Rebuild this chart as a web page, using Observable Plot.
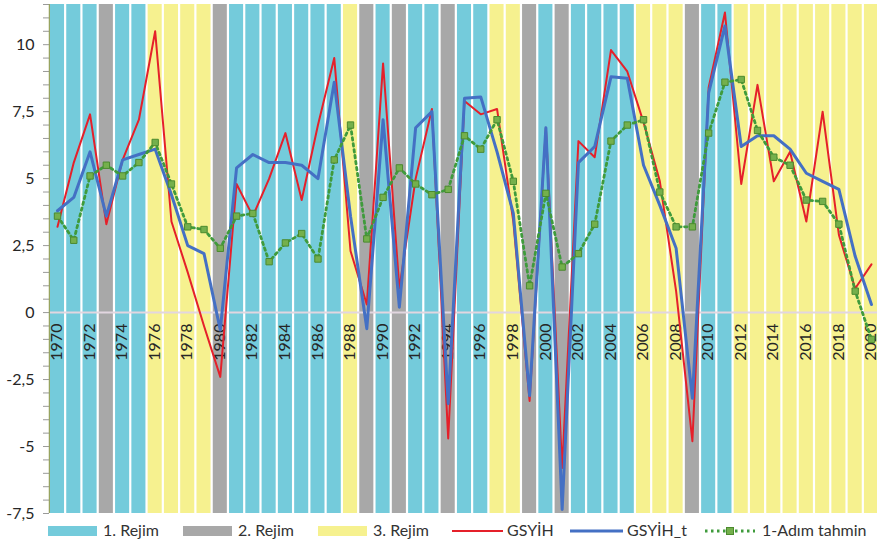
<!DOCTYPE html>
<html><head><meta charset="utf-8">
<script src="https://cdn.jsdelivr.net/npm/d3@7"></script>
<script src="https://cdn.jsdelivr.net/npm/@observablehq/plot@0.6"></script>
<style>
body{margin:0;background:#fff;font-family:Lato,"Open Sans",sans-serif;}
#chart svg{display:block}
#legend{position:relative;height:27px;width:877px;font-size:16px;color:#333;font-family:Lato,"Open Sans",sans-serif;}
.sw{position:absolute;top:0}
.lb{position:absolute;top:4px;line-height:19px;white-space:nowrap}
</style></head><body><div id="chart"></div><div id="legend"></div>
<script>
const years = [1970,1971,1972,1973,1974,1975,1976,1977,1978,1979,
  1980,1981,1982,1983,1984,1985,1986,1987,1988,1989,
  1990,1991,1992,1993,1994,1995,1996,1997,1998,1999,
  2000,2001,2002,2003,2004,2005,2006,2007,2008,2009,
  2010,2011,2012,2013,2014,2015,2016,2017,2018,2019,2020];
const regimes = [1,1,1,2,1,1,3,3,3,3,
  2,1,1,1,1,1,1,1,3,2,
  1,2,1,1,2,1,1,3,3,2,
  1,2,1,1,1,1,3,3,3,2,
  1,1,3,3,3,3,3,3,3,3,3];
const gsyih = [3.2,5.6,7.4,3.3,5.7,7.2,10.5,3.4,1.5,-0.5,
  -2.4,4.8,3.6,5.0,6.7,4.2,7.0,9.5,2.3,0.3,
  9.3,0.9,5.0,7.6,-4.7,7.9,7.4,7.6,3.4,-3.3,
  6.9,-5.8,6.4,5.8,9.8,9.0,7.1,4.9,0.8,-4.8,
  8.4,11.2,4.8,8.5,4.9,6.0,3.4,7.5,2.9,0.9,1.8];
const gsyihT = [3.8,4.3,6.0,3.6,5.7,5.9,6.1,4.4,2.5,2.2,
  -0.65,5.4,5.9,5.6,5.6,5.5,5.0,8.6,3.6,-0.6,
  7.2,0.2,6.9,7.5,-3.4,8.0,8.05,6.0,3.7,-3.1,
  6.9,-7.35,5.6,6.2,8.8,8.75,5.5,4.0,2.4,-3.2,
  8.2,10.7,6.2,6.6,6.6,6.1,5.2,4.9,4.6,2.1,0.3];
const tahmin = [3.6,2.7,5.1,5.5,5.1,5.6,6.35,4.8,3.2,3.1,
  2.4,3.6,3.7,1.9,2.6,2.95,2.0,5.7,7.0,2.75,
  4.3,5.4,4.8,4.4,4.6,6.6,6.1,7.2,4.9,1.0,
  4.45,1.7,2.2,3.3,6.4,7.0,7.2,4.5,3.2,3.2,
  6.7,8.6,8.7,6.8,5.8,5.5,4.2,4.15,3.3,0.8,-1.0];
const labelYears = [1970,1972,1974,1976,1978,1980,1982,1984,1986,1988,1990,1992,1994,1996,1998,2000,2002,2004,2006,2008,2010,2012,2014,2016,2018,2020];
const majorTicks = [-7.5,-5,-2.5,0,2.5,5,7.5,10];
const yDomain = [-7.5, 11.5];
const regimeNames = ["1. Rejim","2. Rejim","3. Rejim"];
const seriesNames = ["GSYİH","GSYİH_t","1-Adım tahmin"];

const C = {cyan:"#74cbdb", gray:"#a8a8a8", yellow:"#f6f18f", red:"#e5202a", blue:"#4470c4", green:"#3f9b3c", mfill:"#74b04c", mstroke:"#4b8a2e"};

const rows = years.map((year, i) => ({year, regime: regimes[i], gsyih: gsyih[i], gsyihT: gsyihT[i], tahmin: tahmin[i]}));
const minorTicks = d3.range(yDomain[0], yDomain[1] + 0.001, 0.5);

const plot = Plot.plot({
  width: 877, height: 516,
  marginTop: 4, marginBottom: 3, marginLeft: 49, marginRight: 0,
  x: {domain: [years[0] - 0.5, years[years.length - 1] + 0.5], range: [48.86, 879.1], axis: null},
  y: {domain: yDomain, axis: null},
  color: {type: "ordinal", domain: [1, 2, 3], range: [C.cyan, C.gray, C.yellow]},
  style: {fontFamily: "Lato, 'Open Sans', sans-serif", fontSize: "16px", color: "#262626", overflow: "visible"},
  marks: [
    Plot.rect(rows, {x1: d => d.year - 0.5, x2: d => d.year + 0.5, y1: yDomain[0], y2: yDomain[1], fill: "regime", insetLeft: 1.1, insetRight: 1.1}),
    Plot.ruleY([0], {stroke: "#e2d6e0", strokeWidth: 2}),
    Plot.axisY({ticks: minorTicks, tickSize: 6, tickFormat: () => "", stroke: "#9a9a9a"}),
    Plot.axisY({ticks: majorTicks, tickSize: 0, tickPadding: 15, tickFormat: d => String(d).replace(".", ","), fontSize: 16, fill: "#262626"}),
    Plot.ruleX([years[0] - 0.5], {y1: yDomain[0], y2: yDomain[1], stroke: "#93a05a", strokeWidth: 1.2}),
    Plot.text(labelYears, {x: d => d, y: 0, text: d => String(d), rotate: -90, textAnchor: "end", lineAnchor: "middle", dy: 11, dx: -0.5, fill: "#262626", fontSize: 16}),
    Plot.line(rows, {x: "year", y: "gsyih", stroke: C.red, strokeWidth: 2}),
    Plot.line(rows, {x: "year", y: "gsyihT", stroke: C.blue, strokeWidth: 3}),
    Plot.line(rows, {x: "year", y: "tahmin", stroke: C.green, strokeWidth: 2.8, strokeDasharray: "2.5,3.5"}),
    Plot.dot(rows, {x: "year", y: "tahmin", symbol: "square", r: 3.6, fill: C.mfill, stroke: C.mstroke, strokeWidth: 1})
  ]
});
document.getElementById("chart").appendChild(plot);

// legend
const legend = document.getElementById("legend");
const items = [
  {label: regimeNames[0], kind: "rect", color: C.cyan, sx: 48, sw: 49, tx: 103},
  {label: regimeNames[1], kind: "rect", color: C.gray, sx: 183, sw: 49, tx: 238},
  {label: regimeNames[2], kind: "rect", color: C.yellow, sx: 318, sw: 49, tx: 373},
  {label: seriesNames[0], kind: "line", color: C.red, w: 2, sx: 452, sw: 51, tx: 507},
  {label: seriesNames[1], kind: "line", color: C.blue, w: 3, sx: 570, sw: 53, tx: 627},
  {label: seriesNames[2], kind: "dots", color: C.green, w: 2.8, sx: 705, sw: 50, tx: 762}
];
const ns = "http://www.w3.org/2000/svg";
for (const it of items) {
  const s = document.createElementNS(ns, "svg");
  s.setAttribute("class", "sw");
  s.setAttribute("width", it.sw);
  s.setAttribute("height", 27);
  s.style.left = it.sx + "px";
  if (it.kind === "rect") {
    const r = document.createElementNS(ns, "rect");
    r.setAttribute("x", 0); r.setAttribute("y", 10); r.setAttribute("width", it.sw); r.setAttribute("height", 10);
    r.setAttribute("fill", it.color);
    s.appendChild(r);
  } else {
    const l = document.createElementNS(ns, "line");
    l.setAttribute("x1", 0); l.setAttribute("x2", it.sw); l.setAttribute("y1", 15); l.setAttribute("y2", 15);
    l.setAttribute("stroke", it.color); l.setAttribute("stroke-width", it.w);
    if (it.kind === "dots") l.setAttribute("stroke-dasharray", "2.5,3.5");
    s.appendChild(l);
    if (it.kind === "dots") {
      const m = document.createElementNS(ns, "rect");
      m.setAttribute("x", it.sw / 2 - 3.5); m.setAttribute("y", 11.5); m.setAttribute("width", 7); m.setAttribute("height", 7);
      m.setAttribute("fill", C.mfill); m.setAttribute("stroke", C.mstroke);
      s.appendChild(m);
    }
  }
  legend.appendChild(s);
  const t = document.createElement("span");
  t.className = "lb";
  t.style.left = it.tx + "px";
  t.textContent = it.label;
  legend.appendChild(t);
}
</script>
</body></html>
